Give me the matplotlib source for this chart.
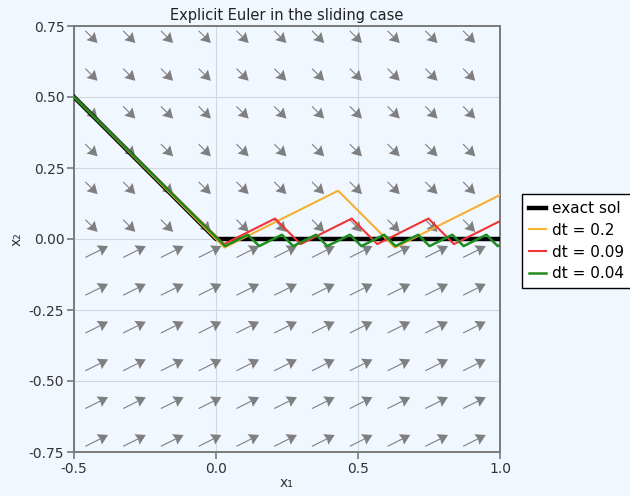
import numpy as np
from matplotlib import pyplot as plt

plt.rcParams['axes.unicode_minus'] = False

# exact solution (slides along x2 = 0)
exact_x = [-0.5, 0.0, 1.0]
exact_y = [0.5, 0.0, 0.0]

# explicit euler, dt = 0.2
e1_x = [-0.57, 0.03, 0.43, 0.63, 1.03]
e1_y = [0.57, -0.03, 0.17, -0.03, 0.17]

# explicit euler, dt = 0.09
e2_x = [-0.5, 0.028, 0.208, 0.298, 0.478, 0.568, 0.748, 0.838, 1.018]
e2_y = [0.5, -0.018, 0.072, -0.018, 0.072, -0.018, 0.072, -0.018, 0.072]

# explicit euler, dt = 0.04
e3_x = [-0.5, 0.032, 0.112, 0.152, 0.232, 0.272, 0.352, 0.392, 0.472, 0.512,
        0.592, 0.632, 0.712, 0.752, 0.832, 0.872, 0.952, 0.992, 1.072]
e3_y = [0.5, -0.025, 0.015, -0.025, 0.015, -0.025, 0.015, -0.025, 0.015, -0.025,
        0.015, -0.025, 0.015, -0.025, 0.015, -0.025, 0.015, -0.025, 0.015]

# vector field grid
grid_x = [-0.46, -0.327, -0.194, -0.061, 0.072, 0.205, 0.338, 0.471, 0.604, 0.737, 0.87]
grid_y = [0.733, 0.6, 0.467, 0.334, 0.201, 0.068,
          -0.065, -0.198, -0.331, -0.464, -0.597, -0.73]
# field above / below x2 = 0 (already scaled for drawing)
f_up = (0.043, -0.043)
f_down = (0.08, 0.04)

bg = '#f0f7ff'
fig = plt.figure(figsize=(6.3, 4.96), dpi=100, facecolor=bg)
ax = fig.add_axes([74/630, 1-452/496, 426/630, 426/496])
ax.set_facecolor(bg)

X, Y = np.meshgrid(grid_x, grid_y)
U = np.where(Y > 0, f_up[0], f_down[0])
V = np.where(Y > 0, f_up[1], f_down[1])
ax.quiver(X, Y, U, V, angles='xy', scale_units='xy', scale=1, color='#7f7f7f',
          width=0.0026, headwidth=10.5, headlength=9, headaxislength=8, zorder=2)

ax.plot(exact_x, exact_y, color='black', lw=3.2, label='exact sol', zorder=3)
ax.plot(e1_x, e1_y, color='#f7b030', lw=1.5, label='dt = 0.2', zorder=4)
ax.plot(e2_x, e2_y, color='#f03434', lw=1.5, label='dt = 0.09', zorder=5)
ax.plot(e3_x, e3_y, color='#1e8c1e', lw=1.8, label='dt = 0.04', zorder=6)

ax.set_xlim(-0.5, 1.0)
ax.set_ylim(-0.75, 0.75)
ax.set_xticks([-0.5, 0.0, 0.5, 1.0])
ax.set_xticklabels(['-0.5', '0.0', '0.5', '1.0'])
ax.set_yticks([-0.75, -0.5, -0.25, 0.0, 0.25, 0.5, 0.75])
ax.set_yticklabels(['-0.75', '-0.50', '-0.25', '0.00', '0.25', '0.50', '0.75'])
ax.grid(True, color='#d0d8e0', lw=0.8)
ax.set_axisbelow(True)
for s in ax.spines.values():
    s.set_color('#7a7a7a')
    s.set_linewidth(1.4)
ax.tick_params(direction='out', length=5, width=1.2, color='#7a7a7a',
               labelsize=10, labelcolor='#333333', pad=2)

ax.set_title('Explicit Euler in the sliding case', fontsize=10.5, pad=4, color='#222222')
ax.set_xlabel('x₁', fontsize=10, labelpad=0, color='#333333')
ax.set_ylabel('x₂', fontsize=10, labelpad=4, color='#333333')

leg = ax.legend(loc='upper left', bbox_to_anchor=(522/630, 1-194/496),
                bbox_transform=fig.transFigure, fontsize=11, frameon=True,
                fancybox=False, handlelength=1.1, handletextpad=0.4,
                labelspacing=0.45, borderpad=0.45, borderaxespad=0)
leg.get_frame().set_edgecolor('black')
leg.get_frame().set_linewidth(1.0)
leg.get_frame().set_facecolor('white')
leg.get_frame().set_alpha(1)

plt.savefig('out.png', dpi=100, facecolor=bg)
